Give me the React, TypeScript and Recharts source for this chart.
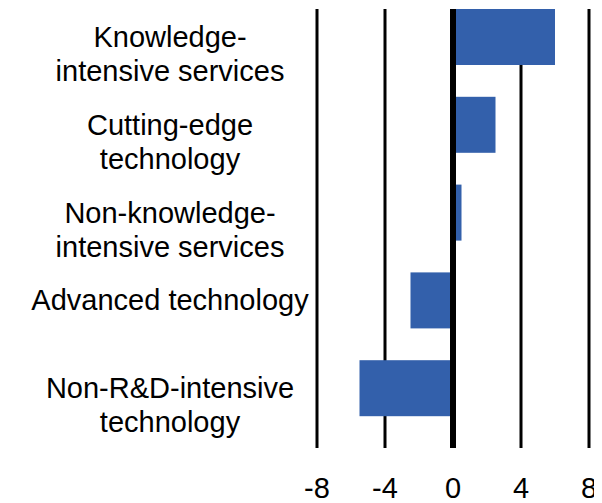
import { BarChart, Bar, XAxis, YAxis, CartesianGrid, ReferenceLine } from "recharts";

const categories = [
  "Knowledge-\nintensive services",
  "Cutting-edge\ntechnology",
  "Non-knowledge-\nintensive services",
  "Advanced technology",
  "Non-R&D-intensive\ntechnology",
];
const values = [6.0, 2.5, 0.5, -2.5, -5.5];
const xTicks = [-8, -4, 0, 4, 8];

const data = categories.map((name, i) => ({ name, value: values[i] }));

const FONT = "'Liberation Sans', Arial, Helvetica, sans-serif";
const BAR_COLOR = "#3360ab";
// bars (and their labels) sit a bit above the centre of each band in the original
const BAND_SHIFT = -16;

function CategoryTick(props: any) {
  const lines = String(props.payload.value).split("\n");
  const cx = props.x - 139;
  const top = props.y + BAND_SHIFT + 10;
  return (
    <text textAnchor="middle" fontFamily={FONT} fontSize={29} fill="#000">
      {lines.map((line, i) => (
        <tspan key={i} x={cx} y={top + i * 34}>
          {line}
        </tspan>
      ))}
    </text>
  );
}

function ValueTick(props: any) {
  return (
    <text x={props.x} y={props.y + 42} textAnchor="middle" fontFamily={FONT} fontSize={29} fill="#000">
      {props.payload.value}
    </text>
  );
}

function ShiftedBar(props: any) {
  const x = Math.min(props.x, props.x + props.width);
  const w = Math.abs(props.width);
  return <rect x={x} y={props.y + BAND_SHIFT} width={w} height={props.height} fill={BAR_COLOR} />;
}

export default function App() {
  return (
    <div style={{ width: 594, height: 495 }}>
      <BarChart
        width={594}
        height={495}
        data={data}
        layout="vertical"
        margin={{ top: 1, right: 13, bottom: 0, left: 0 }}
      >
        <CartesianGrid horizontal={false} stroke="#000" strokeWidth={3} />
        <XAxis
          type="number"
          domain={[-8, 8]}
          ticks={xTicks}
          axisLine={false}
          tickLine={false}
          height={55}
          tick={<ValueTick />}
        />
        <YAxis
          type="category"
          dataKey="name"
          width={309}
          axisLine={false}
          tickLine={false}
          tick={<CategoryTick />}
          interval={0}
        />
        <Bar dataKey="value" barSize={56} shape={<ShiftedBar />} isAnimationActive={false} />
        <ReferenceLine x={0} stroke="#000" strokeWidth={6} />
      </BarChart>
    </div>
  );
}
